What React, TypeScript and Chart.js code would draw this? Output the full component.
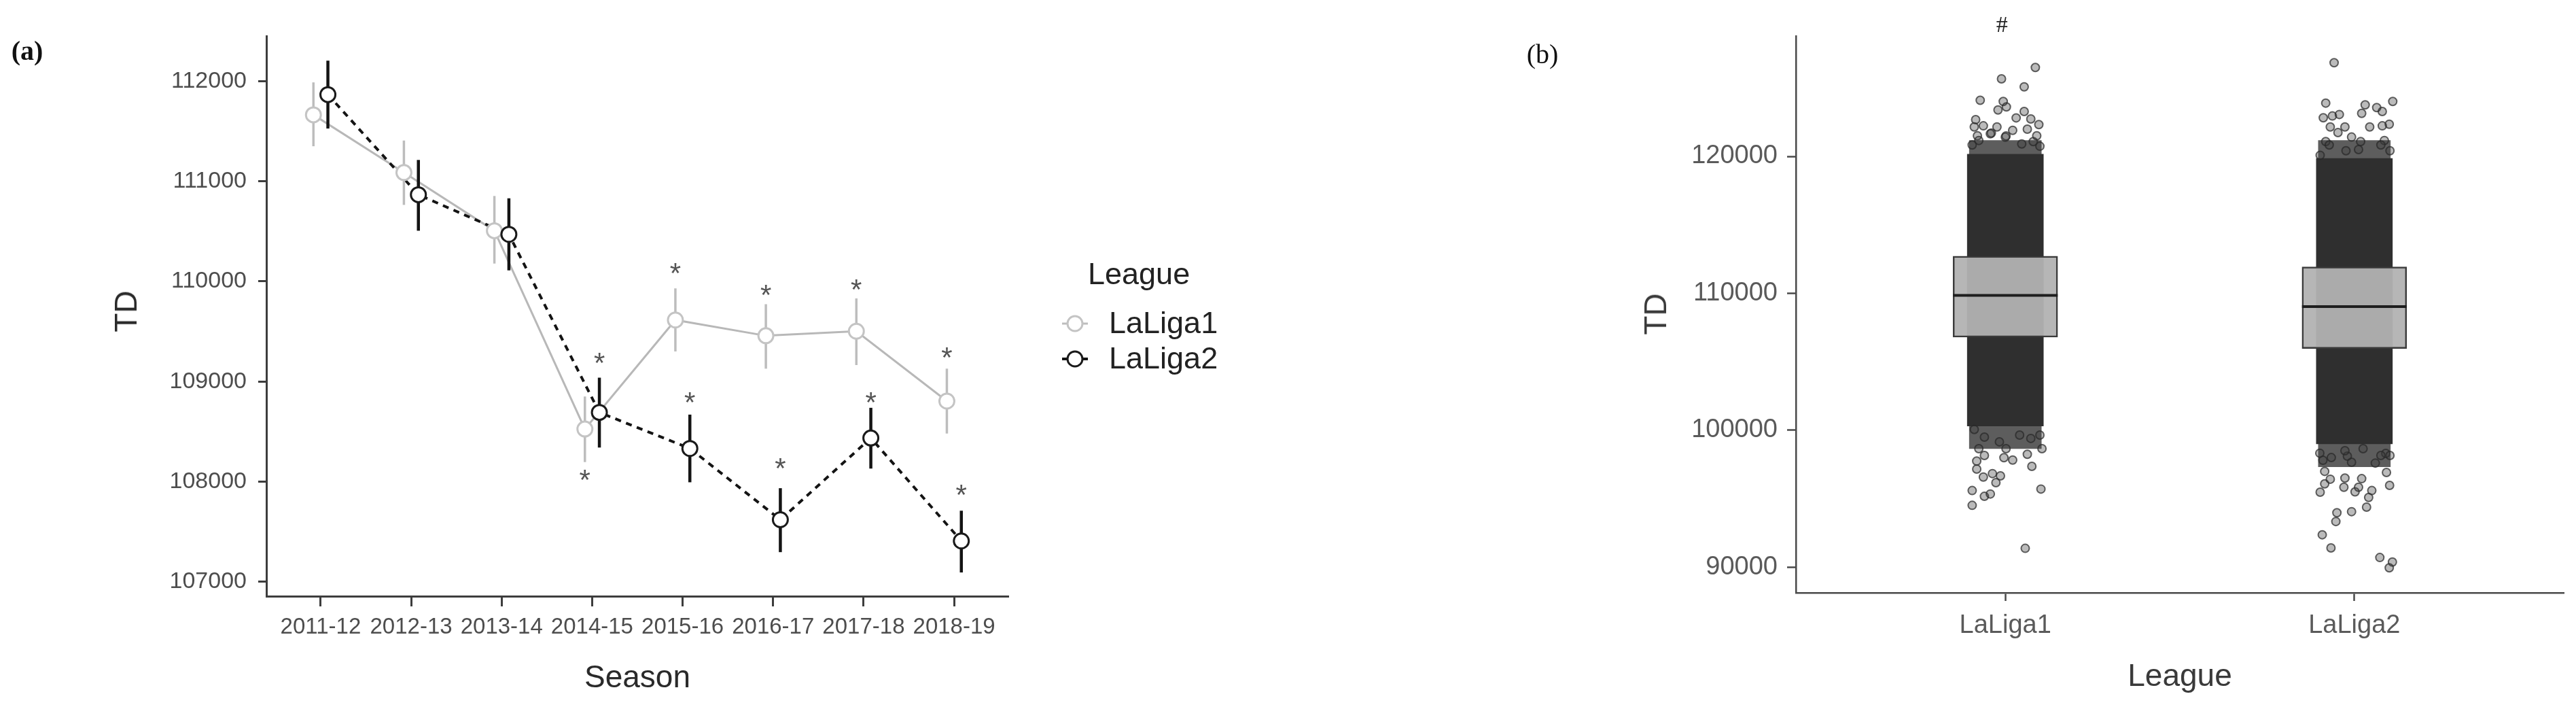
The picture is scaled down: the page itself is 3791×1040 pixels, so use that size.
import React, { useEffect, useRef } from 'react';
import { Chart, registerables } from 'chart.js';

Chart.register(...registerables);

// ---------- Panel (a) data ----------
const seasons = ['2011-12', '2012-13', '2013-14', '2014-15', '2015-16', '2016-17', '2017-18', '2018-19'];
const laliga1Mean = [111664, 111087, 110506, 108525, 109614, 109457, 109502, 108804];
const laliga1Lower = [111350, 110764, 110178, 108195, 109300, 109128, 109164, 108480];
const laliga1Upper = [111988, 111407, 110853, 108850, 109930, 109772, 109830, 109128];
const laliga2Mean = [111866, 110866, 110470, 108691, 108331, 107619, 108435, 107407];
const laliga2Lower = [111527, 110506, 110110, 108340, 107993, 107295, 108130, 107092];
const laliga2Upper = [112205, 111213, 110830, 109038, 108669, 107934, 108737, 107709];
const laliga1Star: (number | null)[] = [null, null, null, 108083, 110146, 109930, 109984, 109308];
const laliga2Star: (number | null)[] = [null, null, null, 109254, 108857, 108196, 108857, 107934];
const tdTicksA = [107000, 108000, 109000, 110000, 111000, 112000];
const legendLabels = ['LaLiga1', 'LaLiga2'];

// ---------- Panel (b) data ----------
const leagues = ['LaLiga1', 'LaLiga2'];
const boxLower = [106792, 105968];
const boxMedian = [109851, 109027];
const boxUpper = [112716, 111927];
const denseLow = [100300, 99000];
const denseHigh = [120160, 119850];
const fringeTopHigh = [121160, 121160];
const fringeBottomLow = [98650, 97330];
const tdTicksB = [90000, 100000, 110000, 120000];
const l1OutJitter = [0.086, -0.011, 0.054, -0.072, -0.006, 0.003, -0.021, 0.031, 0.054, -0.085, 0.073, 0.096, 0.063, -0.063, -0.024, 0.021, -0.095, 0.08, 0.047, -0.04, 0.0, -0.08, 0.09,
  -0.089, -0.043, 0.002, 0.099, -0.076,
  0.076, 0.102, -0.082, -0.082, -0.063, -0.037, -0.014, -0.027, -0.095, -0.06, -0.043, -0.095, 0.021, 0.057, 0.105, 0.063, -0.004, -0.06,
  -0.089, -0.06, -0.017, 0.041, 0.073, 0.099, -0.076, 0.002];
const l1OutTD = [126490, 125660, 125080, 124100, 124010, 123610, 123390, 122810, 123280, 122680, 122730, 122320, 121990, 122230, 122150, 121900, 120830, 121080, 120910, 121700, 121400, 121500, 121500,
  122150, 121650, 121490, 120740, 121160,
  97360, 95700, 97740, 97160, 96580, 96830, 96660, 96170, 95590, 95170, 95340, 94510, 97820, 91370, 98650, 98240, 97990, 98150,
  100050, 99490, 99150, 99640, 99400, 99640, 98650, 98650];
const l2OutJitter = [-0.058, -0.082, 0.031, 0.064, 0.11, 0.021, 0.08, -0.089, -0.063, -0.043, -0.069, -0.027, 0.044, 0.08, 0.1, -0.047, -0.008, -0.082, 0.086, 0.018, -0.098, -0.024,
  -0.072, 0.076, 0.102, 0.012,
  -0.098, -0.085, -0.085, -0.069, -0.03, -0.027, 0.002, 0.012, 0.021, 0.05, 0.041, 0.035, 0.092, 0.101, -0.05, -0.053, -0.008, -0.092, -0.067, 0.073, 0.109, 0.1, -0.09, 0.06, -0.02, 0.09,
  -0.099, -0.066, -0.027, 0.025, 0.076, 0.102, -0.008];
const l2OutTD = [126840, 123890, 123760, 123560, 124010, 123140, 123280, 122820, 122950, 123060, 122150, 122150, 122150, 122230, 122350, 121740, 121410, 121080, 121160, 121080, 120080, 120410,
  120830, 120830, 120410, 120500,
  95470, 96990, 96080, 96420, 95830, 96500, 95500, 95830, 96460, 95590, 95090, 94380, 96910, 95970, 93970, 93330, 94050, 92360, 91400, 90700, 90370, 89950, 97800, 97600, 98100, 98300,
  98320, 98000, 98500, 98650, 98150, 98150, 97660];

const SANS = "'Liberation Sans', Arial, Helvetica, sans-serif";
const SERIF = "'Liberation Serif', 'Times New Roman', serif";
const DODGE = 0.08;
const BOX_HALF = 0.15;

function Label(props: { x: number; y: number; size: number; text: string; rotate?: boolean; weight?: string; family?: string; color?: string }) {
  const { x, y, size, text, rotate, weight, family, color } = props;
  return (
    <div
      style={{
        position: 'absolute',
        left: x,
        top: y,
        fontSize: size,
        lineHeight: `${size}px`,
        fontFamily: family || SANS,
        fontWeight: (weight as any) || 'normal',
        color: color || '#2a2a2a',
        whiteSpace: 'nowrap',
        transform: `translate(-50%, -50%)${rotate ? ' rotate(-90deg)' : ''}`,
      }}
    >
      {text}
    </div>
  );
}

export default function App() {
  const refA = useRef<HTMLCanvasElement | null>(null);
  const refB = useRef<HTMLCanvasElement | null>(null);

  useEffect(() => {
    const errorBarPlugin = {
      id: 'errorBarsAndStars',
      beforeDatasetDraw(chart: any, args: any) {
        const ds = chart.data.datasets[args.index];
        if (ds.label !== 'LaLiga1 points') return;
        const ctx = chart.ctx;
        const xs = chart.scales.x;
        const ys = chart.scales.y;
        ctx.save();
        ctx.lineCap = 'butt';
        const drawSet = (lo: number[], hi: number[], off: number, color: string, w: number) => {
          ctx.strokeStyle = color;
          ctx.lineWidth = w;
          lo.forEach((l, i) => {
            const px = xs.getPixelForValue(i + off);
            ctx.beginPath();
            ctx.moveTo(px, ys.getPixelForValue(l));
            ctx.lineTo(px, ys.getPixelForValue(hi[i]));
            ctx.stroke();
          });
        };
        drawSet(laliga1Lower, laliga1Upper, -DODGE, '#bdbdbd', 3.5);
        drawSet(laliga2Lower, laliga2Upper, DODGE, '#141414', 4.5);
        ctx.restore();
      },
      afterDraw(chart: any) {
        const ctx = chart.ctx;
        const xs = chart.scales.x;
        const ys = chart.scales.y;
        ctx.save();
        const size = 42;
        ctx.font = `${size}px ${SANS}`;
        ctx.fillStyle = '#555555';
        ctx.textAlign = 'center';
        ctx.textBaseline = 'alphabetic';
        const stars = (arr: (number | null)[], off: number) => {
          arr.forEach((v, i) => {
            if (v === null) return;
            ctx.fillText('*', xs.getPixelForValue(i + off), ys.getPixelForValue(v) + 0.57 * size);
          });
        };
        stars(laliga1Star, -DODGE);
        stars(laliga2Star, DODGE);

        // legend
        ctx.font = `45px ${SANS}`;
        ctx.fillStyle = '#222222';
        ctx.textAlign = 'left';
        ctx.textBaseline = 'middle';
        ctx.fillText('League', 1601, 406);
        const keys = [
          { y: 476, line: '#bdbdbd', lw: 3, stroke: '#c4c4c4' },
          { y: 528, line: '#141414', lw: 4, stroke: '#1a1a1a' },
        ];
        keys.forEach((k, i) => {
          ctx.strokeStyle = k.line;
          ctx.lineWidth = k.lw;
          ctx.beginPath();
          ctx.moveTo(1563, k.y);
          ctx.lineTo(1601, k.y);
          ctx.stroke();
          ctx.beginPath();
          ctx.arc(1582, k.y, 11, 0, Math.PI * 2);
          ctx.fillStyle = '#ffffff';
          ctx.fill();
          ctx.strokeStyle = k.stroke;
          ctx.lineWidth = 3;
          ctx.stroke();
          ctx.fillStyle = '#222222';
          ctx.fillText(legendLabels[i], 1632, k.y + 2);
        });
        ctx.restore();
      },
    };

    const axisCommon = (color: string, tickLen: number, width: number) => ({
      grid: { display: true, drawOnChartArea: false, drawTicks: true, tickLength: tickLen, tickColor: color, tickWidth: width, offset: false },
      border: { display: true, color, width },
    });

    const chartA = new Chart(refA.current as HTMLCanvasElement, {
      type: 'line',
      data: {
        datasets: [
          {
            label: 'LaLiga2 points',
            data: laliga2Mean.map((v, i) => ({ x: i + DODGE, y: v })),
            showLine: false,
            pointRadius: 11,
            pointBackgroundColor: '#ffffff',
            pointBorderColor: '#1a1a1a',
            pointBorderWidth: 3,
            order: 1,
          },
          {
            label: 'LaLiga1 points',
            data: laliga1Mean.map((v, i) => ({ x: i - DODGE, y: v })),
            showLine: false,
            pointRadius: 11,
            pointBackgroundColor: '#ffffff',
            pointBorderColor: '#c4c4c4',
            pointBorderWidth: 3,
            order: 2,
          },
          {
            label: 'LaLiga2 line',
            data: laliga2Mean.map((v, i) => ({ x: i + DODGE, y: v })),
            borderColor: '#141414',
            borderWidth: 4,
            borderDash: [9, 8],
            pointRadius: 0,
            tension: 0,
            fill: false,
            order: 3,
          },
          {
            label: 'LaLiga1 line',
            data: laliga1Mean.map((v, i) => ({ x: i - DODGE, y: v })),
            borderColor: '#b8b8b8',
            borderWidth: 3,
            pointRadius: 0,
            tension: 0,
            fill: false,
            order: 4,
          },
        ],
      } as any,
      options: {
        responsive: false,
        maintainAspectRatio: false,
        animation: false,
        events: [],
        layout: { padding: { left: 0, right: 716, top: 53, bottom: 63 } },
        plugins: { legend: { display: false }, tooltip: { enabled: false }, title: { display: false } },
        scales: {
          x: {
            type: 'linear',
            min: -0.6,
            max: 7.6,
            offset: false,
            afterBuildTicks: (ax: any) => { ax.ticks = seasons.map((_, i) => ({ value: i })); },
            afterFit: (ax: any) => { ax.height = 100; },
            ticks: {
              callback: (v: any) => seasons[Math.round(v)],
              font: { family: SANS, size: 33 },
              color: '#4d4d4d',
              padding: 11,
              maxRotation: 0,
              autoSkip: false,
            },
            ...axisCommon('#3d3d3d', 15, 3),
          },
          y: {
            type: 'linear',
            min: 106855,
            max: 112451,
            afterBuildTicks: (ax: any) => { ax.ticks = tdTicksA.map((v) => ({ value: v })); },
            afterFit: (ax: any) => { ax.width = 392; },
            ticks: {
              callback: (v: any) => String(v),
              font: { family: SANS, size: 34 },
              color: '#4d4d4d',
              padding: 17,
            },
            ...axisCommon('#3d3d3d', 12, 3),
          },
        },
      } as any,
      plugins: [errorBarPlugin],
    });

    const hashPlugin = {
      id: 'hashMark',
      afterDraw(chart: any) {
        const ctx = chart.ctx;
        const xs = chart.scales.x;
        ctx.save();
        ctx.font = `34px ${SERIF}`;
        ctx.fillStyle = '#222222';
        ctx.textAlign = 'center';
        ctx.textBaseline = 'middle';
        ctx.fillText('#', xs.getPixelForValue(1) - 5, 38);
        ctx.restore();
      },
    };

    const outliers = [
      ...l1OutTD.map((v, i) => ({ x: 1 + l1OutJitter[i], y: v })),
      ...l2OutTD.map((v, i) => ({ x: 2 + l2OutJitter[i], y: v })),
    ];
    const medianData: any[] = [];
    boxMedian.forEach((m, i) => {
      if (i > 0) medianData.push({ x: i + 0.5, y: null });
      medianData.push({ x: i + 1 - BOX_HALF, y: m });
      medianData.push({ x: i + 1 + BOX_HALF, y: m });
    });

    const chartB = new Chart(refB.current as HTMLCanvasElement, {
      type: 'bar',
      data: {
        datasets: [
          {
            type: 'line',
            label: 'median',
            data: medianData,
            borderColor: '#1e1e1e',
            borderWidth: 4,
            pointRadius: 0,
            spanGaps: false,
            order: 1,
          },
          {
            label: 'box',
            data: leagues.map((_, i) => ({ x: i + 1, y: [boxLower[i], boxUpper[i]] })),
            backgroundColor: 'rgba(178,178,178,0.95)',
            borderColor: '#3a3a3a',
            borderWidth: 2.5,
            borderSkipped: false,
            barThickness: 154,
            grouped: false,
            order: 2,
          },
          {
            type: 'scatter',
            label: 'outliers',
            data: outliers,
            pointRadius: 6,
            pointBackgroundColor: 'rgba(60,60,60,0.35)',
            pointBorderColor: 'rgba(40,40,40,0.72)',
            pointBorderWidth: 2,
            showLine: false,
            order: 3,
          },
          {
            label: 'fringeTop',
            data: leagues.map((_, i) => ({ x: i + 1, y: [denseHigh[i], fringeTopHigh[i]] })),
            backgroundColor: 'rgba(47,47,47,0.78)',
            borderWidth: 0,
            barThickness: 106,
            grouped: false,
            order: 4,
          },
          {
            label: 'fringeBottom',
            data: leagues.map((_, i) => ({ x: i + 1, y: [fringeBottomLow[i], denseLow[i]] })),
            backgroundColor: 'rgba(47,47,47,0.78)',
            borderWidth: 0,
            barThickness: 106,
            grouped: false,
            order: 4,
          },
          {
            label: 'dense',
            data: leagues.map((_, i) => ({ x: i + 1, y: [denseLow[i], denseHigh[i]] })),
            backgroundColor: '#2f2f2f',
            borderWidth: 0,
            barThickness: 112,
            grouped: false,
            order: 5,
          },
        ],
      } as any,
      options: {
        responsive: false,
        maintainAspectRatio: false,
        animation: false,
        events: [],
        layout: { padding: { left: 0, right: 18, top: 53, bottom: 68 } },
        plugins: { legend: { display: false }, tooltip: { enabled: false }, title: { display: false } },
        scales: {
          x: {
            type: 'linear',
            min: 0.4,
            max: 2.6,
            offset: false,
            afterBuildTicks: (ax: any) => { ax.ticks = leagues.map((_, i) => ({ value: i + 1 })); },
            afterFit: (ax: any) => { ax.height = 100; },
            ticks: {
              callback: (v: any) => leagues[Math.round(v) - 1],
              font: { family: SANS, size: 38 },
              color: '#5a5a5a',
              padding: 14,
              maxRotation: 0,
              autoSkip: false,
            },
            ...axisCommon('#4a4a4a', 12, 2.5),
          },
          y: {
            type: 'linear',
            min: 88123,
            max: 128789,
            beginAtZero: false,
            afterBuildTicks: (ax: any) => { ax.ticks = tdTicksB.map((v) => ({ value: v })); },
            afterFit: (ax: any) => { ax.width = 443; },
            ticks: {
              callback: (v: any) => String(v),
              font: { family: SANS, size: 38 },
              color: '#5a5a5a',
              padding: 14,
            },
            ...axisCommon('#4a4a4a', 13, 2.5),
          },
        },
      } as any,
      plugins: [hashPlugin],
    });

    return () => {
      chartA.destroy();
      chartB.destroy();
    };
  }, []);

  return (
    <div style={{ position: 'absolute', left: 0, top: 0, width: 3791, height: 1040, background: '#ffffff', overflow: 'hidden' }}>
      <canvas ref={refA} width={2200} height={1040} style={{ position: 'absolute', left: 0, top: 0, width: 2200, height: 1040 }} />
      <canvas ref={refB} width={1591} height={1040} style={{ position: 'absolute', left: 2200, top: 0, width: 1591, height: 1040 }} />
      <Label x={40} y={75} size={40} text="(a)" weight="bold" family={SERIF} color="#111111" />
      <Label x={2270} y={80} size={40} text="(b)" family={SERIF} color="#111111" />
      <Label x={185} y={458} size={46} text="TD" rotate color="#2a2a2a" />
      <Label x={938} y={995} size={46} text="Season" color="#2a2a2a" />
      <Label x={2436} y={462} size={46} text="TD" rotate color="#3a3a3a" />
      <Label x={3208} y={993} size={46} text="League" color="#3a3a3a" />
    </div>
  );
}
